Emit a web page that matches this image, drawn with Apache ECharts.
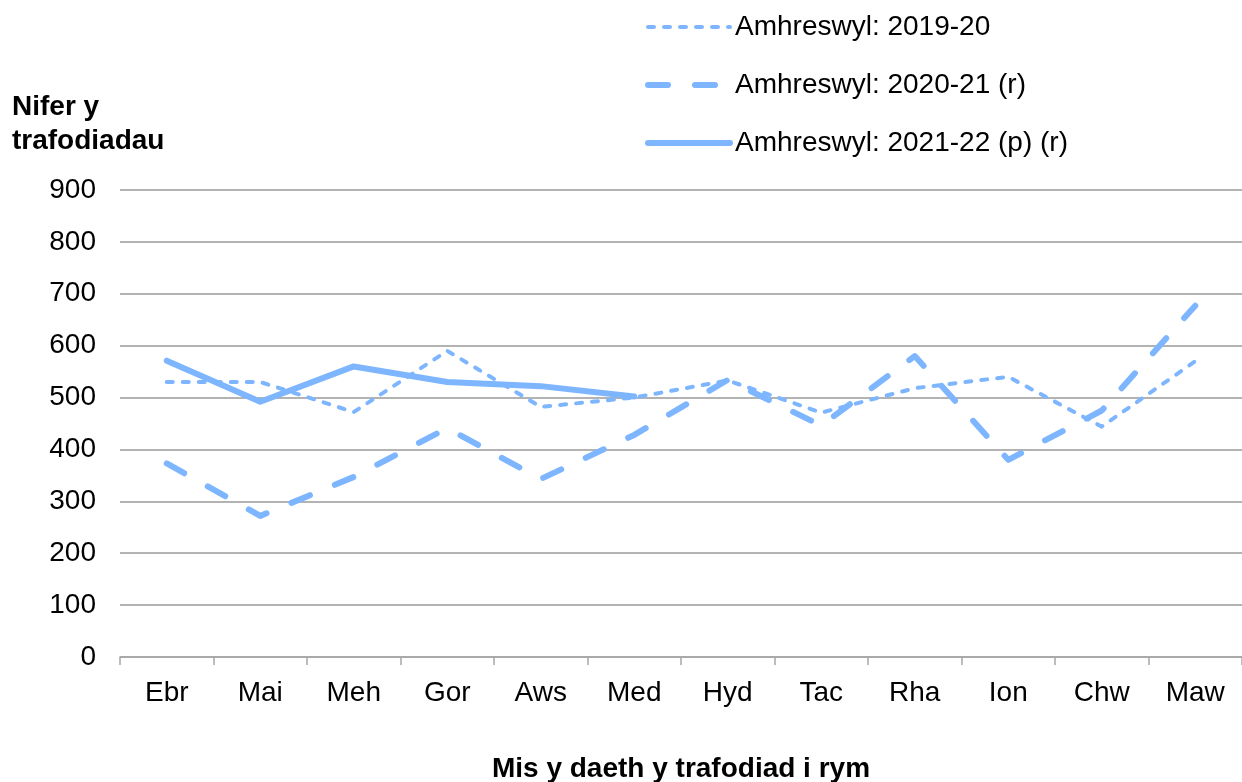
<!DOCTYPE html>
<html><head><meta charset="utf-8">
<script src="https://cdn.jsdelivr.net/npm/echarts@6/dist/echarts.min.js"></script>
<style>html,body{margin:0;padding:0;background:#fff}#c{width:1242px;height:782px}</style>
</head><body><div id="c"></div>
<script>
const categories = ['Ebr','Mai','Meh','Gor','Aws','Med','Hyd','Tac','Rha','Ion','Chw','Maw'];
const s2019 = [530,530,472,590,482,500,533,471,518,540,444,570];
const s2020 = [373,272,347,441,343,428,534,446,580,380,475,677];
const s2021 = [571,492,560,530,522,502];
const seriesNames = ['Amhreswyl: 2019-20','Amhreswyl: 2020-21 (r)','Amhreswyl: 2021-22 (p) (r)'];
const yTicks = {min:0, max:900, interval:100};
const color = '#7db6ff';
const font = 'Liberation Sans, Arial, sans-serif';
const styles = [
  {width:4, type:[6,10]},
  {width:6, type:[20,27]},
  {width:6, type:'solid'}
];

const chart = echarts.init(document.getElementById('c'), null, {renderer:'canvas'});
chart.setOption({
  animation:false,
  grid:{left:120, right:0, top:190, bottom:125, containLabel:false, outerBoundsMode:'none'},
  legend:{
    orient:'vertical', left:640, top:8, itemWidth:82, itemHeight:30, itemGap:30,
    textStyle:{fontFamily:font, fontSize:28, color:'#000'},
    itemStyle:{opacity:0},
    data:seriesNames.map((n,i)=>({name:n, itemStyle:{opacity:0},
      lineStyle:{color:color, width:styles[i].width, type:styles[i].type, cap:'round'}}))
  },
  graphic:[{type:'text', left:12, top:90, style:{text:'Nifer y\ntrafodiadau', font:'bold 28px '+font, fill:'#000', lineHeight:34}}],
  xAxis:{
    type:'category', data:categories, boundaryGap:true,
    axisLine:{lineStyle:{color:'#a6a6a6', width:1.5}},
    axisTick:{show:true, length:8, lineStyle:{color:'#a6a6a6', width:1.5}},
    axisLabel:{fontFamily:font, fontSize:28, color:'#000', margin:22},
    name:'Mis y daeth y trafodiad i rym', nameLocation:'middle', nameGap:98,
    nameTextStyle:{fontFamily:font, fontSize:28, fontWeight:'bold', color:'#000'}
  },
  yAxis:{
    type:'value', min:yTicks.min, max:yTicks.max, interval:yTicks.interval,
    axisLine:{show:false}, axisTick:{show:false},
    splitLine:{lineStyle:{color:'#b3b3b3', width:2}},
    axisLabel:{fontFamily:font, fontSize:28, color:'#000', margin:24}
  },
  series:[s2019, s2020, s2021].map((d,i)=>({
    name:seriesNames[i], type:'line', data:d, symbol:'none', color:color,
    lineStyle:{color:color, width:styles[i].width, type:styles[i].type, cap:'round', join:'round'}
  }))
});
</script></body></html>
